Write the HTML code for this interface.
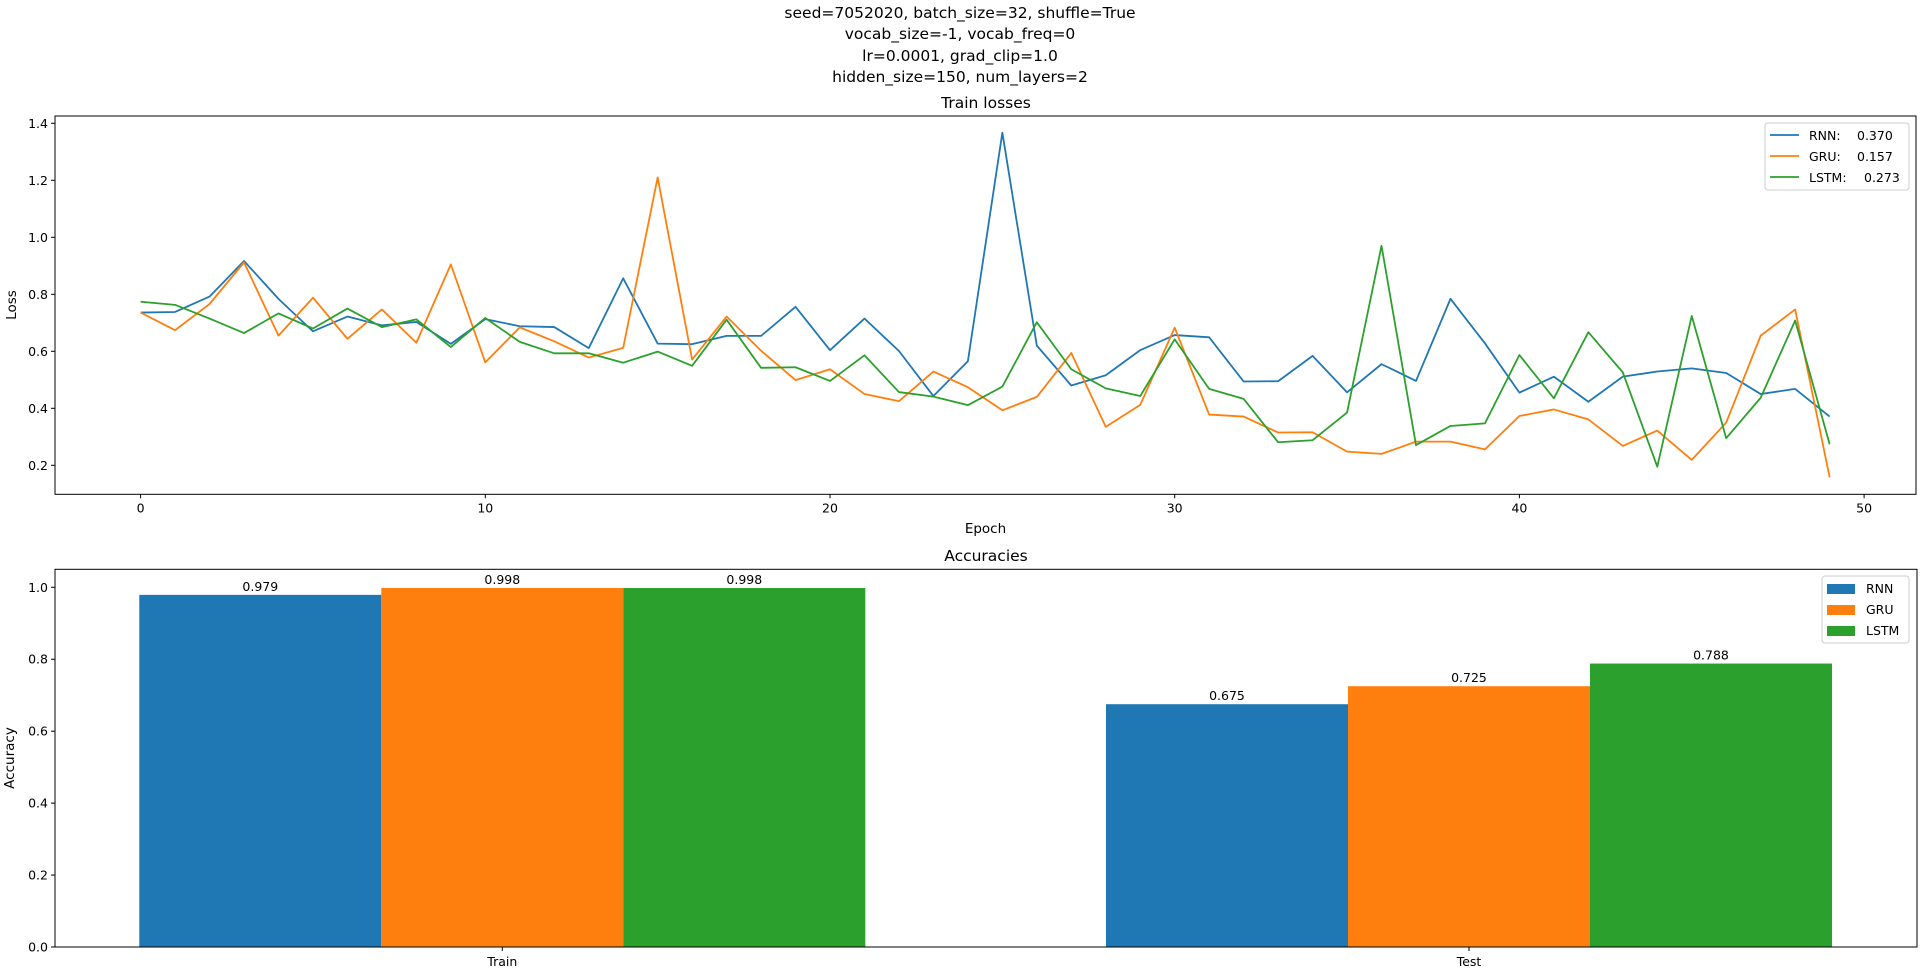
<!DOCTYPE html>
<html><head><meta charset="utf-8"><style>
body{margin:0;background:#fff;}
svg{display:block;font-family:"DejaVu Sans","Liberation Sans",sans-serif;}
</style></head><body>
<svg id="fig" width="1920" height="975" xmlns="http://www.w3.org/2000/svg">
<g font-size="15.5" text-anchor="middle" fill="#000">
<text x="960" y="18">seed=7052020, batch_size=32, shuffle=True</text>
<text x="960" y="39">vocab_size=-1, vocab_freq=0</text>
<text x="960" y="61">lr=0.0001, grad_clip=1.0</text>
<text x="960" y="82">hidden_size=150, num_layers=2</text>
</g>
<text x="986" y="108" font-size="15.5" text-anchor="middle">Train losses</text>
<text x="986" y="561" font-size="15.5" text-anchor="middle">Accuracies</text>
<g id="loss"></g>
<g id="acc"></g>
</svg>
<script>
const epochs = Array.from({length:50},(_,i)=>i);
const rnnLoss = [0.736,0.738,0.792,0.917,0.784,0.670,0.722,0.691,0.703,0.626,0.713,0.688,0.685,0.611,0.856,0.627,0.625,0.654,0.654,0.756,0.604,0.715,0.601,0.443,0.565,1.367,0.620,0.480,0.516,0.604,0.657,0.649,0.494,0.495,0.584,0.456,0.555,0.496,0.784,0.628,0.455,0.511,0.423,0.511,0.529,0.540,0.524,0.450,0.468,0.371];
const gruLoss = [0.736,0.674,0.766,0.912,0.655,0.788,0.644,0.747,0.630,0.905,0.561,0.684,0.635,0.578,0.612,1.210,0.571,0.722,0.602,0.499,0.537,0.450,0.425,0.529,0.474,0.393,0.440,0.594,0.335,0.412,0.683,0.378,0.371,0.315,0.316,0.248,0.240,0.283,0.283,0.256,0.373,0.396,0.361,0.268,0.322,0.219,0.350,0.655,0.747,0.158];
const lstmLoss = [0.774,0.763,0.715,0.664,0.733,0.680,0.750,0.685,0.712,0.615,0.717,0.633,0.593,0.593,0.560,0.599,0.549,0.711,0.542,0.544,0.496,0.586,0.457,0.441,0.411,0.476,0.702,0.537,0.470,0.443,0.642,0.468,0.433,0.281,0.288,0.385,0.970,0.271,0.338,0.347,0.587,0.435,0.667,0.526,0.195,0.724,0.295,0.437,0.708,0.274];
const lossTicksY = [0.2,0.4,0.6,0.8,1.0,1.2,1.4];
const lossTicksX = [0,10,20,30,40,50];
const seriesNames = ["RNN","GRU","LSTM"];
const finalLabels = ["0.370","0.157","0.273"];
const groups = ["Train","Test"];
const rnnAcc = [0.979,0.675];
const gruAcc = [0.998,0.725];
const lstmAcc = [0.998,0.788];
const accTicksY = [0.0,0.2,0.4,0.6,0.8,1.0];

const colors=["#1f77b4","#ff7f0e","#2ca02c"];
const NS="http://www.w3.org/2000/svg";
function mk(parent,tag,attrs,text){const e=document.createElementNS(NS,tag);for(const k in attrs)e.setAttribute(k,attrs[k]);if(text!==undefined)e.textContent=text;parent.appendChild(e);return e;}

// Loss chart
const L={l:55,r:1916,t:116,b:494.3};
const lx=v=>140.6+v*34.47;
const ly=v=>465.3-(v-0.2)*285;
const lg=document.getElementById('loss');
const series=[rnnLoss,gruLoss,lstmLoss];
series.forEach((s,k)=>{
  const p=mk(lg,'polyline',{points:s.map((v,i)=>lx(epochs[i])+','+ly(v)).join(' '),fill:'none',stroke:colors[k],'stroke-width':1.8,'stroke-linejoin':'round'});
  
  
});
const lf=mk(lg,'rect',{x:L.l,y:L.t,width:L.r-L.l,height:L.b-L.t,fill:'none',stroke:'#000','stroke-width':1});


lossTicksY.forEach(v=>{
  mk(lg,'line',{x1:L.l-4,x2:L.l,y1:ly(v),y2:ly(v),stroke:'#000'});
  const t=mk(lg,'text',{x:L.l-7,y:ly(v)+4.5,'font-size':12.5,'text-anchor':'end'},v.toFixed(1));
  
  
});
lossTicksX.forEach(v=>{
  mk(lg,'line',{x1:lx(v),x2:lx(v),y1:L.b,y2:L.b+4,stroke:'#000'});
  const t=mk(lg,'text',{x:lx(v),y:L.b+18,'font-size':12.5,'text-anchor':'middle'},String(v));
  
  
});
const xl=mk(lg,'text',{x:(L.l+L.r)/2,y:533,'font-size':13.5,'text-anchor':'middle'},'Epoch');


const yl=mk(lg,'text',{x:0,y:0,'font-size':13.5,'text-anchor':'middle',transform:'translate(16,305) rotate(-90)'},'Loss');


const leg=mk(lg,'g',{});


mk(leg,'rect',{x:1765,y:123,width:144,height:67,rx:3,fill:'#fff','fill-opacity':0.8,stroke:'#ccc'});
const valX=[1857,1857,1864];
seriesNames.forEach((n,k)=>{
  const y=135+k*21;
  mk(leg,'line',{x1:1770,x2:1799,y1:y,y2:y,stroke:colors[k],'stroke-width':1.8});
  const t=mk(leg,'text',{x:1809,y:y+5,'font-size':12.5},n+':');
  
  
  mk(leg,'text',{x:valX[k],y:y+5,'font-size':12.5},finalLabels[k]);
});

// Accuracy chart
const A={l:55,r:1917,t:569.3,b:947};
const ay=v=>947-v*359.7;
const centers=[502.3,1469];
const bw=242;
const ag=document.getElementById('acc');
const accSeries=[rnnAcc,gruAcc,lstmAcc];
accSeries.forEach((s,k)=>{
  s.forEach((v,g)=>{
    const x=centers[g]+(k-1.5)*bw;
    const r=mk(ag,'rect',{x:x,y:ay(v),width:bw,height:ay(0)-ay(v),fill:colors[k]});
    
    
    const t=mk(ag,'text',{x:x+bw/2,y:ay(v)-4,'font-size':12.5,'text-anchor':'middle'},v.toFixed(3));
    
    
  });
});
const af=mk(ag,'rect',{x:A.l,y:A.t,width:A.r-A.l,height:A.b-A.t,fill:'none',stroke:'#000','stroke-width':1});


accTicksY.forEach(v=>{
  mk(ag,'line',{x1:A.l-4,x2:A.l,y1:ay(v),y2:ay(v),stroke:'#000'});
  const t=mk(ag,'text',{x:A.l-7,y:ay(v)+4.5,'font-size':12.5,'text-anchor':'end'},v.toFixed(1));
  
  
});
groups.forEach((g,i)=>{
  mk(ag,'line',{x1:centers[i],x2:centers[i],y1:A.b,y2:A.b+4,stroke:'#000'});
  const t=mk(ag,'text',{x:centers[i],y:A.b+19,'font-size':12.5,'text-anchor':'middle'},g);
  
  
});
const ayl=mk(ag,'text',{x:0,y:0,'font-size':13.5,'text-anchor':'middle',transform:'translate(14,758) rotate(-90)'},'Accuracy');


const leg2=mk(ag,'g',{});


mk(leg2,'rect',{x:1822,y:576,width:87,height:67,rx:3,fill:'#fff','fill-opacity':0.8,stroke:'#ccc'});
seriesNames.forEach((n,k)=>{
  const y=588+k*21;
  mk(leg2,'rect',{x:1827,y:y-4,width:28,height:10,fill:colors[k]});
  const t=mk(leg2,'text',{x:1866,y:y+5,'font-size':12.5},n);
  
  
});
</script>
</body></html>
